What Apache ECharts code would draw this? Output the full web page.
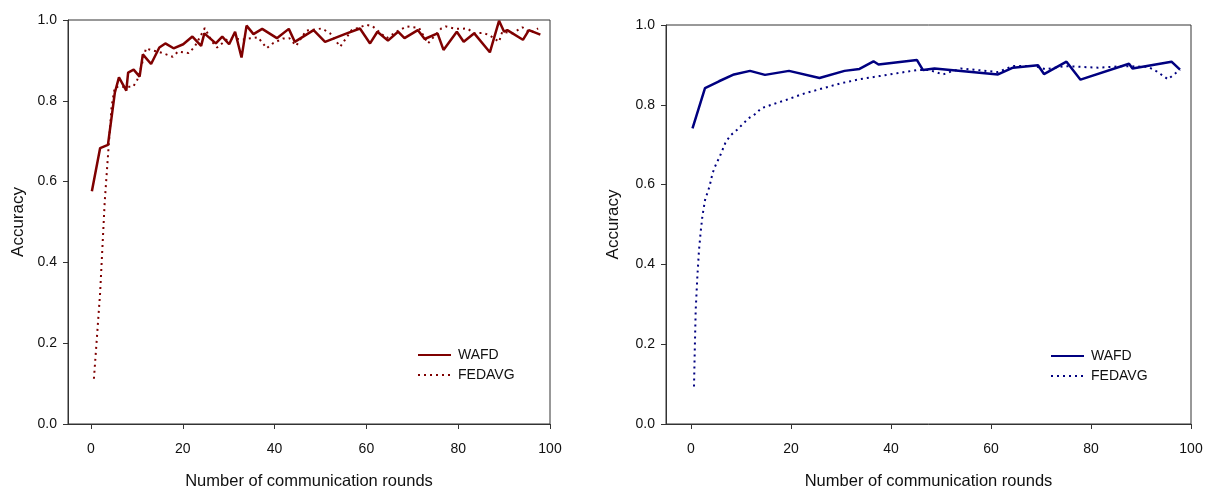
<!DOCTYPE html>
<html><head><meta charset="utf-8">
<script src="https://cdn.jsdelivr.net/npm/echarts@6/dist/echarts.min.js"></script>
<style>
html,body{margin:0;padding:0;background:#fff;}
#c1{position:absolute;left:0;top:0;width:603px;height:488px;}
#c2{position:absolute;left:603px;top:0;width:603px;height:488px;}
</style></head><body>
<div id="c1"></div><div id="c2"></div>
<script>
// ---- data ----
const xTicks = [0, 20, 40, 60, 80, 100];
const seriesNames = ['WAFD', 'FEDAVG'];

const leftWafdRounds = [0.2,2.0,3.7,5.2,6.1,7.7,8.1,9.3,10.6,11.3,13.1,14.9,16.2,18.0,20.1,22.1,24.0,24.7,27.2,28.6,30.1,31.4,32.8,33.9,35.4,37.3,40.5,43.1,44.4,48.5,51.0,55.3,58.6,60.8,62.4,64.7,66.9,68.3,71.2,72.7,75.5,76.8,79.7,81.2,83.5,86.9,88.9,90.0,90.7,94.1,95.4,97.9];
const leftWafdAcc = [0.576,0.683,0.691,0.82,0.858,0.825,0.87,0.877,0.86,0.915,0.891,0.932,0.942,0.93,0.94,0.959,0.936,0.967,0.942,0.959,0.94,0.971,0.907,0.986,0.965,0.978,0.955,0.978,0.946,0.975,0.946,0.965,0.979,0.942,0.971,0.949,0.971,0.955,0.975,0.953,0.967,0.926,0.971,0.946,0.967,0.92,0.998,0.971,0.975,0.951,0.975,0.964];

const leftFedRounds = [0.65,2.0,3.0,3.8,4.5,5.2,9.2,10.1,10.8,12.0,13.0,15.4,17.8,19.0,21.3,22.6,24.8,26.4,27.5,30.0,33.1,36.4,38.3,39.6,41.8,43.2,44.7,46.9,50.3,52.1,54.3,56.8,60.0,61.3,64.4,66.9,68.7,71.5,73.4,76.3,77.3,79.5,82.0,83.5,85.4,86.7,88.9,89.6,91.8,94.0,95.7,97.4];
const leftFedAcc = [0.112,0.325,0.55,0.679,0.786,0.834,0.835,0.852,0.878,0.93,0.926,0.919,0.909,0.922,0.918,0.934,0.98,0.946,0.932,0.955,0.952,0.957,0.93,0.942,0.954,0.955,0.936,0.974,0.979,0.967,0.934,0.975,0.988,0.985,0.955,0.973,0.984,0.98,0.942,0.979,0.984,0.978,0.979,0.967,0.968,0.963,0.946,0.971,0.967,0.982,0.968,0.979];

const rightWafdRounds = [0.3,2.8,5.6,8.6,11.8,14.8,19.6,25.7,30.7,33.7,36.5,37.5,45.2,46.4,48.7,61.4,64.4,69.4,70.6,75.1,77.9,87.6,88.3,96.1,97.8];
const rightWafdAcc = [0.741,0.842,0.859,0.876,0.885,0.875,0.885,0.867,0.885,0.890,0.909,0.901,0.912,0.887,0.891,0.876,0.893,0.899,0.877,0.908,0.863,0.903,0.891,0.908,0.888];

const rightFedRounds = [0.6,0.74,0.94,1.27,1.6,1.94,2.27,2.8,3.7,4.3,4.8,5.95,6.95,7.95,9.1,10.3,11.5,13.0,14.0,16.3,19.0,22.3,25.7,29.7,33.7,37.7,41.7,45.1,47.7,50.4,51.7,54.0,57.4,61.4,64.4,68.7,71.0,74.7,81.4,86.8,91.4,93.1,95.4,97.8];
const rightFedAcc = [0.094,0.178,0.286,0.369,0.436,0.482,0.52,0.561,0.595,0.628,0.645,0.676,0.707,0.724,0.736,0.751,0.766,0.778,0.791,0.801,0.812,0.827,0.839,0.853,0.864,0.872,0.88,0.887,0.887,0.876,0.882,0.891,0.887,0.882,0.897,0.897,0.889,0.897,0.893,0.897,0.895,0.884,0.864,0.888];

const zip = (a, b) => a.map((v, i) => [v, b[i]]);
const FONT = 'Liberation Sans';

function makeOption(p, wafd, fed) {
  return {
    animation: false,
    textStyle: { fontFamily: FONT },
    grid: { left: p.gl, right: p.gr, top: p.gt, bottom: 64, show: true, borderColor: '#333', borderWidth: 1,
            containLabel: false, outerBoundsMode: 'none' },
    legend: {
      orient: 'vertical', left: p.ll, top: p.lt, itemWidth: 33, itemHeight: 14, itemGap: 6, padding: 0,
      data: seriesNames,
      itemStyle: { opacity: 0 },
      textStyle: { fontFamily: FONT, fontSize: 14, color: '#111', padding: [0, 0, 0, 2] }
    },
    xAxis: {
      type: 'value', min: -5, max: 100,
      name: 'Number of communication rounds', nameLocation: 'middle', nameGap: 49,
      nameTextStyle: { fontFamily: FONT, fontSize: 16.5, color: '#111' },
      axisLine: { lineStyle: { color: '#333', width: 1 } },
      axisTick: { show: true, length: 5, inside: false, customValues: xTicks, lineStyle: { color: '#333' } },
      axisLabel: { customValues: xTicks, fontFamily: FONT, fontSize: 14, color: '#111', margin: 18 },
      splitLine: { show: false }
    },
    yAxis: {
      type: 'value', min: 0, max: 1, interval: 0.2,
      name: 'Accuracy', nameLocation: 'middle', nameGap: p.yng,
      nameTextStyle: { fontFamily: FONT, fontSize: 17, color: '#111' },
      axisLine: { show: true, onZero: false, lineStyle: { color: '#333', width: 1 } },
      axisTick: { show: true, length: 5, lineStyle: { color: '#333' } },
      axisLabel: { fontFamily: FONT, fontSize: 14, color: '#111', margin: 11, formatter: v => v.toFixed(1) },
      splitLine: { show: false }
    },
    series: [
      { name: 'WAFD', type: 'line', data: wafd, showSymbol: false, symbol: 'none',
        lineStyle: { color: p.color, width: 2.5 }, itemStyle: { color: p.color } },
      { name: 'FEDAVG', type: 'line', data: fed, showSymbol: false, symbol: 'none',
        lineStyle: { color: p.color, width: 2, type: [2, 4] }, itemStyle: { color: p.color } }
    ]
  };
}

const c1 = echarts.init(document.getElementById('c1'), null, { renderer: 'canvas' });
c1.setOption(makeOption({ color: '#7f0000', gl: 68, gr: 53, gt: 20, ll: 417, lt: 348, yng: 39 },
  zip(leftWafdRounds, leftWafdAcc), zip(leftFedRounds, leftFedAcc)));
const c2 = echarts.init(document.getElementById('c2'), null, { renderer: 'canvas' });
c2.setOption(makeOption({ color: '#000080', gl: 63, gr: 15, gt: 25, ll: 447, lt: 349, yng: 44 },
  zip(rightWafdRounds, rightWafdAcc), zip(rightFedRounds, rightFedAcc)));
</script>
</body></html>
